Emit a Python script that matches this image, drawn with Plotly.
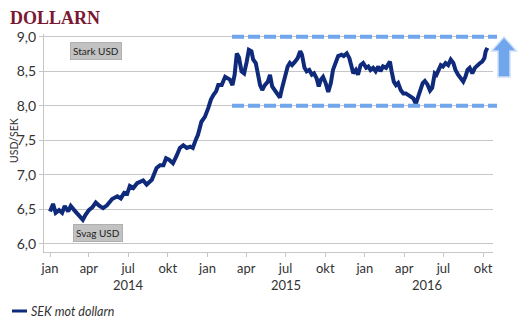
import plotly.graph_objects as go

# SEK per USD, sampled from the daily series
dates = [
    "2014-01-01", "2014-01-08", "2014-01-14", "2014-01-22", "2014-01-29", "2014-02-04",
    "2014-02-12", "2014-02-18", "2014-02-26", "2014-03-03", "2014-03-09", "2014-03-18",
    "2014-03-24", "2014-04-01", "2014-04-09", "2014-04-17", "2014-04-24", "2014-05-04",
    "2014-05-13", "2014-05-25", "2014-06-06", "2014-06-14", "2014-06-22", "2014-06-29",
    "2014-07-05", "2014-07-13", "2014-07-22", "2014-08-05", "2014-08-13", "2014-08-25",
    "2014-09-05", "2014-09-13", "2014-09-21", "2014-09-27", "2014-10-04", "2014-10-13",
    "2014-10-21", "2014-10-29", "2014-11-06", "2014-11-14", "2014-11-22", "2014-11-28",
    "2014-12-05", "2014-12-10", "2014-12-18", "2014-12-26", "2015-01-03", "2015-01-09",
    "2015-01-15", "2015-01-21", "2015-01-26", "2015-02-03", "2015-02-11", "2015-02-16",
    "2015-02-22", "2015-02-28", "2015-03-05", "2015-03-10", "2015-03-15", "2015-03-21",
    "2015-03-27", "2015-04-02", "2015-04-07", "2015-04-13", "2015-04-17", "2015-04-23",
    "2015-04-28", "2015-05-03", "2015-05-08", "2015-05-14", "2015-05-21", "2015-05-26",
    "2015-05-31", "2015-06-06", "2015-06-12", "2015-06-18", "2015-06-23", "2015-06-30",
    "2015-07-06", "2015-07-11", "2015-07-16", "2015-07-23", "2015-07-29", "2015-08-04",
    "2015-08-08", "2015-08-14", "2015-08-19", "2015-08-25", "2015-08-31", "2015-09-05",
    "2015-09-11", "2015-09-16", "2015-09-21", "2015-09-26", "2015-10-02", "2015-10-08",
    "2015-10-14", "2015-10-19", "2015-10-26", "2015-10-31", "2015-11-08", "2015-11-13",
    "2015-11-20", "2015-11-26", "2015-12-01", "2015-12-05", "2015-12-11", "2015-12-16",
    "2015-12-22", "2015-12-28", "2016-01-04", "2016-01-09", "2016-01-14", "2016-01-20",
    "2016-01-26", "2016-02-01", "2016-02-06", "2016-02-12", "2016-02-19", "2016-02-24",
    "2016-02-28", "2016-03-03", "2016-03-08", "2016-03-13", "2016-03-18", "2016-03-24",
    "2016-03-30", "2016-04-05", "2016-04-10", "2016-04-16", "2016-04-22", "2016-04-28",
    "2016-05-02", "2016-05-08", "2016-05-14", "2016-05-19", "2016-05-25", "2016-05-31",
    "2016-06-05", "2016-06-11", "2016-06-15", "2016-06-20", "2016-06-25", "2016-06-30",
    "2016-07-06", "2016-07-12", "2016-07-18", "2016-07-24", "2016-07-29", "2016-08-04",
    "2016-08-11", "2016-08-16", "2016-08-21", "2016-08-26", "2016-08-31", "2016-09-06",
    "2016-09-12", "2016-09-18", "2016-09-24", "2016-09-29", "2016-10-04", "2016-10-07",
    "2016-10-11",
]
usd_sek = [
    6.47, 6.58, 6.45, 6.49, 6.45, 6.55,
    6.47, 6.55, 6.49, 6.45, 6.40, 6.35,
    6.42, 6.49, 6.53, 6.60, 6.56, 6.52,
    6.56, 6.65, 6.69, 6.66, 6.74, 6.73,
    6.84, 6.81, 6.88, 6.92, 6.86, 6.93,
    7.10, 7.14, 7.14, 7.24, 7.22, 7.17,
    7.27, 7.39, 7.43, 7.39, 7.41, 7.39,
    7.51, 7.58, 7.77, 7.84, 7.97, 8.09,
    8.16, 8.21, 8.30, 8.30, 8.42, 8.40,
    8.38, 8.30, 8.45, 8.76, 8.70, 8.50,
    8.47, 8.64, 8.81, 8.79, 8.67, 8.62,
    8.47, 8.30, 8.23, 8.30, 8.35, 8.45,
    8.28, 8.23, 8.16, 8.12, 8.26, 8.42,
    8.57, 8.62, 8.59, 8.64, 8.69, 8.79,
    8.74, 8.55, 8.50, 8.52, 8.45, 8.47,
    8.40, 8.28, 8.38, 8.42, 8.33, 8.20,
    8.33, 8.52, 8.64, 8.72, 8.74, 8.72,
    8.76, 8.69, 8.57, 8.47, 8.52, 8.45,
    8.59, 8.62, 8.55, 8.57, 8.52, 8.55,
    8.50, 8.57, 8.50, 8.57, 8.55, 8.59,
    8.64, 8.50, 8.35, 8.30, 8.33, 8.23,
    8.18, 8.18, 8.16, 8.13, 8.11, 8.03,
    8.11, 8.23, 8.33, 8.36, 8.31, 8.22,
    8.26, 8.47, 8.45, 8.52, 8.59, 8.57,
    8.62, 8.59, 8.67, 8.62, 8.52, 8.45,
    8.38, 8.35, 8.42, 8.52, 8.55, 8.47,
    8.55, 8.59, 8.62, 8.64, 8.69, 8.79,
    8.84,
]

# axis ticks
month_ticks = [
    "2014-01-01", "2014-04-01", "2014-07-01", "2014-10-01",
    "2015-01-01", "2015-04-01", "2015-07-01", "2015-10-01",
    "2016-01-01", "2016-04-01", "2016-07-01", "2016-10-01",
]
month_labels = ["jan", "apr", "jul", "okt"] * 3
year_labels = ["2014", "2015", "2016"]
year_centers = ["2014-07-01", "2015-07-01", "2016-05-24"]
y_ticks = [6.0, 6.5, 7.0, 7.5, 8.0, 8.5, 9.0]
y_labels = ["6,0", "6,5", "7,0", "7,5", "8,0", "8,5", "9,0"]

# trading band
band_levels = [9.0, 8.0]

FONT = "Lato"
NAVY = "#0f2a7a"
BAND = "#6fa6ec"
GRID = "#c6c6c6"

fig = go.Figure()
fig.add_trace(go.Scatter(
    x=dates, y=usd_sek, mode="lines", name="SEK mot dollarn",
    line=dict(color=NAVY, width=4, shape="linear"),
    showlegend=False, hoverinfo="x+y",
))

W, H = 518, 332
L, R, T, B = 44, 25, 34, 80
pw, ph = W - L - R, H - T - B


def px_x(p):
    return (p - L) / pw


def px_y(p):
    return (H - B - p) / ph


shapes = []
for lvl in band_levels:
    shapes.append(dict(
        type="line", xref="paper", yref="y",
        x0=px_x(232), x1=px_x(497), y0=lvl, y1=lvl,
        line=dict(color=BAND, width=4, dash="12px,4px"), layer="above",
    ))

# upward block arrow beside the band
ax = [504, 516.5, 510, 510, 498, 498, 491.5]
ay = [37, 51, 51, 77, 77, 51, 51]
path = "M " + " L ".join(f"{px_x(a):.4f},{px_y(b):.4f}" for a, b in zip(ax, ay)) + " Z"
shapes.append(dict(
    type="path", xref="paper", yref="paper", path=path,
    fillcolor=BAND, line=dict(color="#cfe0f6", width=1.5), layer="above",
))

# legend sample
shapes.append(dict(
    type="line", xref="paper", yref="paper",
    x0=px_x(12), x1=px_x(27), y0=px_y(311), y1=px_y(311),
    line=dict(color=NAVY, width=3),
))

annotations = [
    dict(text="<b>DOLLARN</b>", xref="paper", yref="paper", x=px_x(8), y=px_y(18),
         xanchor="left", yanchor="middle", showarrow=False,
         font=dict(family="Liberation Serif", size=18, color="#7a1832")),
    dict(text="USD/SEK", xref="paper", yref="paper", x=px_x(14), y=px_y(140),
         xanchor="center", yanchor="middle", textangle=-90, showarrow=False,
         font=dict(family=FONT, size=10.5, color="#333333")),
    dict(text="Stark USD", x="2014-04-17", y=8.79, xref="x", yref="y",
         showarrow=False, bgcolor="#c2c2c2", bordercolor="#b0b0b0", borderwidth=1,
         borderpad=2, font=dict(family=FONT, size=10, color="#222222")),
    dict(text="Svag USD", x="2014-04-22", y=6.16, xref="x", yref="y",
         showarrow=False, bgcolor="#c2c2c2", bordercolor="#b0b0b0", borderwidth=1,
         borderpad=2, font=dict(family=FONT, size=10, color="#222222")),
    dict(text="<i>SEK mot dollarn</i>", xref="paper", yref="paper", x=px_x(29), y=px_y(311),
         xanchor="left", yanchor="middle", showarrow=False,
         font=dict(family=FONT, size=12.5, color="#333333")),
]
for yl, yc in zip(year_labels, year_centers):
    annotations.append(dict(
        text=yl, x=yc, xref="x", yref="paper", y=px_y(285),
        xanchor="center", yanchor="middle", showarrow=False,
        font=dict(family=FONT, size=13, color="#333333"),
    ))

fig.update_layout(
    width=W, height=H,
    margin=dict(l=L, r=R, t=T, b=B, pad=0),
    paper_bgcolor="white", plot_bgcolor="white",
    font=dict(family=FONT, color="#333333"),
    shapes=shapes, annotations=annotations,
    xaxis=dict(
        range=["2013-12-18", "2016-10-24"], type="date",
        tickvals=month_ticks, ticktext=month_labels,
        showgrid=False, zeroline=False,
        showline=True, linecolor=GRID, linewidth=1.3,
        ticks="outside", ticklen=4, tickcolor=GRID,
        tickfont=dict(family=FONT, size=13, color="#333333"),
    ),
    yaxis=dict(
        range=[5.884, 9.04],
        tickvals=y_ticks, ticktext=y_labels,
        showgrid=True, gridcolor=GRID, gridwidth=1.3, zeroline=False,
        showline=True, linecolor=GRID, linewidth=1.3,
        ticks="outside", ticklen=4, tickcolor=GRID,
        tickfont=dict(family=FONT, size=14, color="#333333"),
    ),
)

fig.write_html("out.html")
